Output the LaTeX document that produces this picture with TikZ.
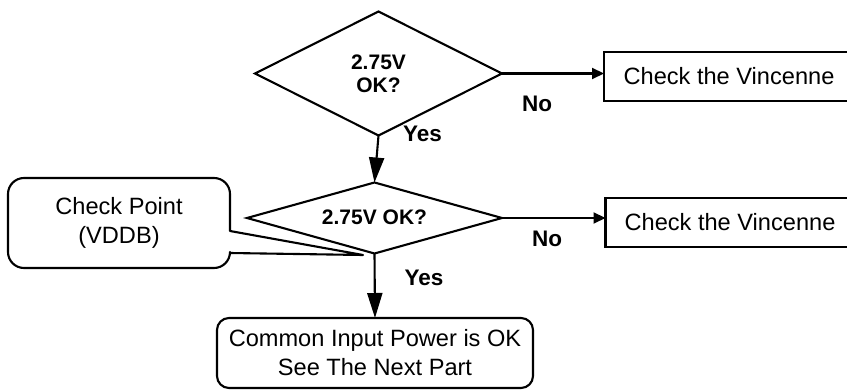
\documentclass[tikz,border=0pt]{standalone}
\usepackage{fontspec}
\setmainfont{Liberation Sans}
\usetikzlibrary{shapes.geometric,arrows.meta}
\begin{document}
\begin{tikzpicture}[x=1pt,y=-1pt,
  every node/.style={inner sep=0pt, outer sep=0pt},
  line/.style={line width=2.1pt},
  plain/.style={font=\fontsize{23.6}{29}\selectfont, align=center},
  decision/.style={diamond, draw, line width=2.1pt, font=\bfseries\fontsize{21}{25}\selectfont, align=center},
  label/.style={font=\bfseries\fontsize{22.5}{27}\selectfont},
  result/.style={plain, draw, line width=2.1pt},
  vflow/.style={line, -{Triangle[length=25pt,width=15pt]}},
  hflow/.style={line, -{Triangle[length=12pt,width=11pt]}}]
\useasboundingbox (0,0) rectangle (847,390);

% decisions
\node[decision, aspect=2, minimum width=247pt, minimum height=124pt] (d1) at (378.5,73.5) {2.75V\\[-2pt]OK?};
\node[decision, aspect=3.6, minimum width=255pt, minimum height=71pt] (d2) at (374.5,218) {\raisebox{2pt}{2.75V OK?}};

% outcome boxes
\node[result, minimum width=250pt, minimum height=49pt] (v1) at (729,76.5) {Check the Vincenne};
\node[result, minimum width=249pt, minimum height=49pt] (v2) at (730,222.5) {Check the Vincenne};
\node[result, rounded corners=12pt, minimum width=316pt, minimum height=70pt] (fin) at (375,353) {Common Input Power is OK\\See The Next Part};

% callout
\node[plain, minimum width=222pt, minimum height=90pt] (cp) at (119,223) {Check Point\\(VDDB)};
\coordinate (cptip) at (363,255);
\draw[line, line join=round] (cptip) -- ([yshift=15pt]cp.south east)
  [rounded corners=16pt] -- (cp.south east) -- (cp.south west) -- (cp.north west) -- (cp.north east)
  [sharp corners] -- ([yshift=37pt]cp.south east) -- cycle;

% connectors
\draw[vflow] (d1.south) -- (d2.north);
\draw[vflow] (d2.south) -- (fin.north);
\draw[hflow] (d1.east) -- (d1.east -| v1.west);
\draw[hflow] (d2.east) -- (d2.east -| v2.west);

% branch labels
\node[label] (no1) at (537,104) {No};
\node[label] (yes1) at (422.5,133.5) {Yes};
\node[label] (no2) at (547,239) {No};
\node[label] (yes2) at (424,278) {Yes};
\end{tikzpicture}
\end{document}
